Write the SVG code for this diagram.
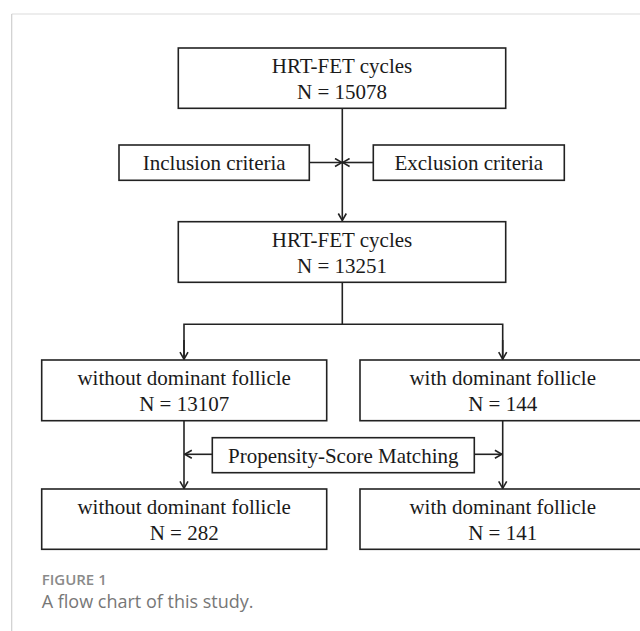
<svg xmlns="http://www.w3.org/2000/svg" width="640" height="631" viewBox="0 0 640 631">
<style>
.box{fill:#fff;stroke:#222;stroke-width:1.6}
.t{font-family:"Liberation Serif","Times New Roman",serif;font-size:21px;fill:#1a1a1a;text-anchor:middle}
.ln{fill:none;stroke:#222;stroke-width:1.6}
.cap1{font-family:"Open Sans","Liberation Sans",sans-serif;font-size:15px;font-weight:600;fill:#8a8a8a}
.cap2{font-family:"Open Sans","Liberation Sans",sans-serif;font-size:18px;fill:#777}
</style>
<defs>
<marker id="arr" viewBox="0 0 10 10" refX="9" refY="5" markerWidth="10" markerHeight="10" markerUnits="userSpaceOnUse" orient="auto">
<polyline points="2,1 9,5 2,9" fill="none" stroke="#222" stroke-width="1.6"/>
</marker>
</defs>
<rect x="0" y="0" width="640" height="631" fill="#fff"/>
<line x1="11.7" y1="14" x2="640" y2="14" stroke="#dcdcdc" stroke-width="1.2"/>
<line x1="11.7" y1="14" x2="11.7" y2="631" stroke="#cfcfcf" stroke-width="1.2"/>
<g id="connectors">
<line class="ln" x1="342.3" y1="108.3" x2="342.3" y2="220.5" marker-end="url(#arr)"/>
<line class="ln" x1="309.3" y1="162.5" x2="342" y2="162.5" marker-end="url(#arr)"/>
<line class="ln" x1="373.3" y1="162.5" x2="342.6" y2="162.5" marker-end="url(#arr)"/>
<polyline class="ln" points="342.3,282.3 342.3,324.3"/>
<polyline class="ln" points="184,359 184,324.3 502.7,324.3 502.7,359" style="marker-end:none"/>
<line class="ln" x1="184" y1="340" x2="184" y2="359.2" marker-end="url(#arr)"/>
<line class="ln" x1="502.7" y1="340" x2="502.7" y2="359.2" marker-end="url(#arr)"/>
<line class="ln" x1="184" y1="420.7" x2="184" y2="488.3" marker-end="url(#arr)"/>
<line class="ln" x1="502.7" y1="420.7" x2="502.7" y2="488.3" marker-end="url(#arr)"/>
<line class="ln" x1="212.3" y1="454.3" x2="184.8" y2="454.3" marker-end="url(#arr)"/>
<line class="ln" x1="474.3" y1="454.3" x2="501.9" y2="454.3" marker-end="url(#arr)"/>
</g>
<g id="n1"><rect class="box" x="178.3" y="48" width="327.4" height="60.3"/>
<text class="t" x="342" y="72.5">HRT-FET cycles</text><text class="t" x="342" y="99">N = 15078</text></g>
<g id="inc"><rect class="box" x="119" y="145" width="190.3" height="35.3"/>
<text class="t" x="214.2" y="170">Inclusion criteria</text></g>
<g id="exc"><rect class="box" x="373.3" y="145" width="191" height="35.3"/>
<text class="t" x="468.8" y="170">Exclusion criteria</text></g>
<g id="n2"><rect class="box" x="178.3" y="221.7" width="327.4" height="60.6"/>
<text class="t" x="342" y="246.5">HRT-FET cycles</text><text class="t" x="342" y="273">N = 13251</text></g>
<g id="n3"><rect class="box" x="41.7" y="360" width="285" height="60.7"/>
<text class="t" x="184.2" y="385">without dominant follicle</text><text class="t" x="184.2" y="410.7">N = 13107</text></g>
<g id="n4"><rect class="box" x="360" y="360" width="285" height="60.7"/>
<text class="t" x="502.7" y="385">with dominant follicle</text><text class="t" x="502.7" y="410.7">N = 144</text></g>
<g id="psm"><rect class="box" x="212.3" y="437.7" width="262" height="35"/>
<text class="t" x="343.3" y="462.5">Propensity-Score Matching</text></g>
<g id="n5"><rect class="box" x="41.7" y="489" width="285" height="60.3"/>
<text class="t" x="184.2" y="514">without dominant follicle</text><text class="t" x="184.2" y="540">N = 282</text></g>
<g id="n6"><rect class="box" x="360" y="489" width="285" height="60.3"/>
<text class="t" x="502.7" y="514">with dominant follicle</text><text class="t" x="502.7" y="540">N = 141</text></g>
<text class="cap1" x="41.7" y="585">FIGURE 1</text>
<text class="cap2" x="41.7" y="608.3">A flow chart of this study.</text>
</svg>
